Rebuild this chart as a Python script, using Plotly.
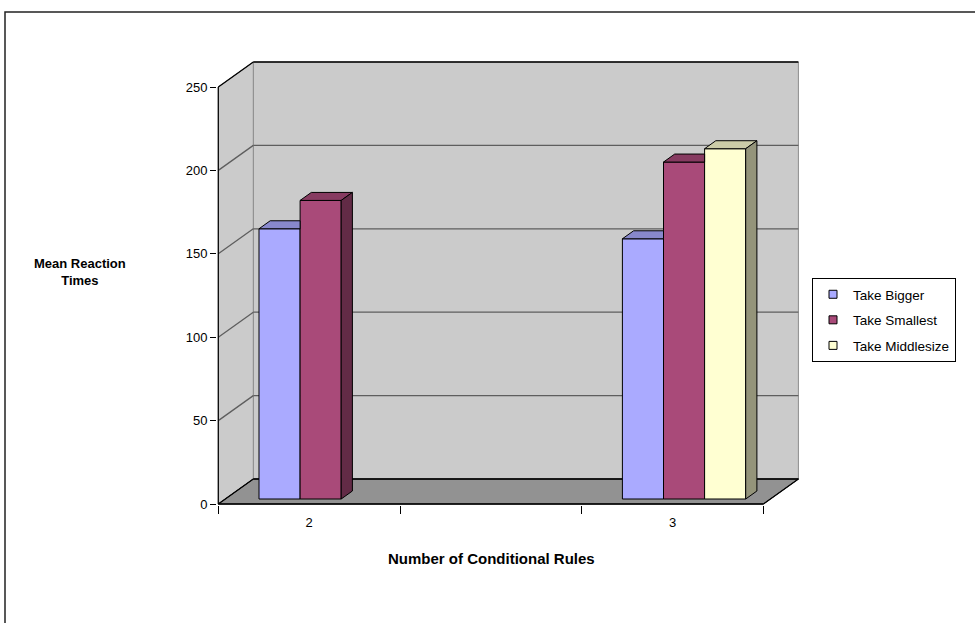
import plotly.graph_objects as go

# ---- data -------------------------------------------------------------
categories = ["2", "", "3"]
series_names = ["Take Bigger", "Take Smallest", "Take Middlesize"]
take_bigger = [162, None, 156]
take_smallest = [179, None, 202]
take_middlesize = [None, None, 210]
y_ticks = [0, 50, 100, 150, 200, 250]

series_values = [take_bigger, take_smallest, take_middlesize]
front_colors = ["#AAAAFF", "#A94A79", "#FFFFD2"]

# ---- geometry of the pseudo-3D box -----------------------------------
W, H = 975, 623
PX_X = 181.7          # pixels per category
PX_Y = 1.668          # pixels per value unit
X0_PX, Y0_PX = 218.3, 504.0   # pixel position of front-left floor corner
DX = 35 / PX_X        # depth offset of the back wall (x units)
DY = 25 / PX_Y        # depth offset of the back wall (y units)
F1, F2 = 0.2, 0.52    # front / back depth of the columns
GAP = 33.7 / PX_X     # space before the first column of a group
BW = 41.1 / PX_X      # column width
X_LEFT = -0.5
X_RIGHT = len(categories) - 0.5
Y_TOP = y_ticks[-1]

ML, MT, MR, MB = 217, 58, 173, 118
plot_w = W - ML - MR
plot_h = H - MT - MB
x_min = X_LEFT - (X0_PX - ML) / PX_X
x_max = x_min + plot_w / PX_X
y_min = -((H - MB) - Y0_PX) / PX_Y
y_max = y_min + plot_h / PX_Y


def px_to_paper(px, py):
    return (px - ML) / plot_w, ((H - MB) - py) / plot_h


def shade(hex_color, k):
    h = hex_color.lstrip("#")
    r, g, b = (int(h[i:i + 2], 16) for i in (0, 2, 4))
    return "rgb(%d,%d,%d)" % (round(r * k), round(g * k), round(b * k))


def poly(xs, ys, fill, line_color="black", width=1):
    return dict(type="path", xref="x", yref="y", layer="below",
                path="M" + "L".join("%f,%f" % (x, y) for x, y in zip(xs, ys)) + "Z",
                fillcolor=fill, line=dict(color=line_color, width=width))


def seg(x0, y0, x1, y1, color, width=1.2):
    return dict(type="line", xref="x", yref="y", layer="below",
                x0=x0, y0=y0, x1=x1, y1=y1, line=dict(color=color, width=width))


WALL = "#CBCBCB"
FLOOR = "#929292"
GRID = "#5E5E5E"

shapes = []
# back wall
shapes.append(poly([X_LEFT + DX, X_RIGHT + DX, X_RIGHT + DX, X_LEFT + DX],
                   [DY, DY, Y_TOP + DY, Y_TOP + DY], WALL, "#8C8C8C", 1))
# side wall
shapes.append(poly([X_LEFT, X_LEFT + DX, X_LEFT + DX, X_LEFT],
                   [0, DY, Y_TOP + DY, Y_TOP], WALL, "#8C8C8C", 1))
# floor
shapes.append(poly([X_LEFT, X_RIGHT, X_RIGHT + DX, X_LEFT + DX],
                   [0, 0, DY, DY], FLOOR, "#222222", 1))
# gridlines on back and side walls
for v in y_ticks:
    col = "black" if v in (y_ticks[0], y_ticks[-1]) else GRID
    shapes.append(seg(X_LEFT + DX, v + DY, X_RIGHT + DX, v + DY, col, 1.3))
    shapes.append(seg(X_LEFT, v, X_LEFT + DX, v + DY, col, 1.3))
# front edges of the box
shapes.append(seg(X_LEFT, 0, X_LEFT, Y_TOP, "black", 1.2))
shapes.append(seg(X_LEFT, 0, X_RIGHT, 0, "black", 1.5))
shapes.append(seg(X_RIGHT, 0, X_RIGHT + DX, DY, "black", 1.2))

# outer chart frame
fx0, fy0 = px_to_paper(5, 12)
fx1, fy1 = px_to_paper(W + 10, H + 10)
shapes.append(dict(type="rect", xref="paper", yref="paper", layer="above",
                   x0=fx0, y0=fy1, x1=fx1, y1=fy0,
                   line=dict(color="#222222", width=1.5), fillcolor="rgba(0,0,0,0)"))

fig = go.Figure()

# front faces of the columns
for si, (name, vals) in enumerate(zip(series_names, series_values)):
    xs, ys = [], []
    for ci, v in enumerate(vals):
        if v is None:
            continue
        xl = ci - 0.5 + GAP + si * BW
        xs.append(xl + BW / 2 + F1 * DX)
        ys.append(v)
    fig.add_trace(go.Bar(x=xs, y=ys, base=F1 * DY, width=BW, name=name,
                         marker=dict(color=front_colors[si],
                                     line=dict(color="black", width=1)),
                         showlegend=False, hoverinfo="skip"))

# top and side faces of the columns
for ci in range(len(categories)):
    for si, vals in enumerate(series_values):
        v = vals[ci]
        if v is None:
            continue
        nxt = series_values[si + 1][ci] if si + 1 < len(series_values) else None
        nxt = nxt or 0
        xl = ci - 0.5 + GAP + si * BW
        xr = xl + BW
        hidden = nxt >= v
        back_r = xr + (F1 if hidden else F2) * DX
        fig.add_trace(go.Scatter(
            x=[xl + F1 * DX, xr + F1 * DX, back_r, xl + F2 * DX, xl + F1 * DX],
            y=[v + F1 * DY, v + F1 * DY, v + F2 * DY, v + F2 * DY, v + F1 * DY],
            mode="lines", fill="toself", fillcolor=shade(front_colors[si], 0.8),
            line=dict(color="black", width=1), showlegend=False, hoverinfo="skip"))
        if not hidden:
            fig.add_trace(go.Scatter(
                x=[xr + F1 * DX, xr + F2 * DX, xr + F2 * DX, xr + F1 * DX, xr + F1 * DX],
                y=[F1 * DY, F2 * DY, v + F2 * DY, v + F1 * DY, F1 * DY],
                mode="lines", fill="toself", fillcolor=shade(front_colors[si], 0.58),
                line=dict(color="black", width=1), showlegend=False, hoverinfo="skip"))

# legend entries
for si, name in enumerate(series_names):
    fig.add_trace(go.Scatter(x=[None], y=[None], mode="markers", name=name,
                             legendgroup=name,
                             marker=dict(symbol="square", size=8, color=front_colors[si],
                                         line=dict(color="black", width=1))))

FONT = "Liberation Sans, Arial, sans-serif"
lx, ly = px_to_paper(812, 278)
tx, ty = px_to_paper(80, 272)
bx, by = px_to_paper(491, 558)

fig.update_layout(
    width=W, height=H,
    margin=dict(l=ML, r=MR, t=MT, b=MB, autoexpand=False),
    paper_bgcolor="white", plot_bgcolor="white",
    font=dict(family=FONT, size=13, color="black"),
    barmode="overlay",
    shapes=shapes,
    showlegend=True,
    legend=dict(x=lx, y=ly, xanchor="left", yanchor="top",
                bordercolor="black", borderwidth=1, bgcolor="white",
                font=dict(size=13.5), itemwidth=30, tracegroupgap=5),
    xaxis=dict(range=[x_min, x_max], showgrid=False, zeroline=False, showline=False,
               tickmode="array", tickvals=list(range(len(categories))),
               ticktext=categories, ticks="outside", ticklen=5,
               tickcolor="rgba(0,0,0,0)",
               minor=dict(tickmode="array",
                          tickvals=[i - 0.5 for i in range(len(categories) + 1)],
                          ticks="outside", ticklen=8, tickcolor="black", tickwidth=1),
               fixedrange=True),
    yaxis=dict(range=[y_min, y_max], showgrid=False, zeroline=False, showline=False,
               tickmode="array", tickvals=y_ticks, ticks="outside", ticklen=6,
               tickcolor="black", fixedrange=True),
    annotations=[
        dict(text="<b>Mean Reaction<br>Times</b>", xref="paper", yref="paper",
             x=tx, y=ty, xanchor="center", yanchor="middle", showarrow=False,
             font=dict(size=13)),
        dict(text="<b>Number of Conditional Rules</b>", xref="paper", yref="paper",
             x=bx, y=by, xanchor="center", yanchor="middle", showarrow=False,
             font=dict(size=15)),
    ],
)

fig.write_html("out.html")
